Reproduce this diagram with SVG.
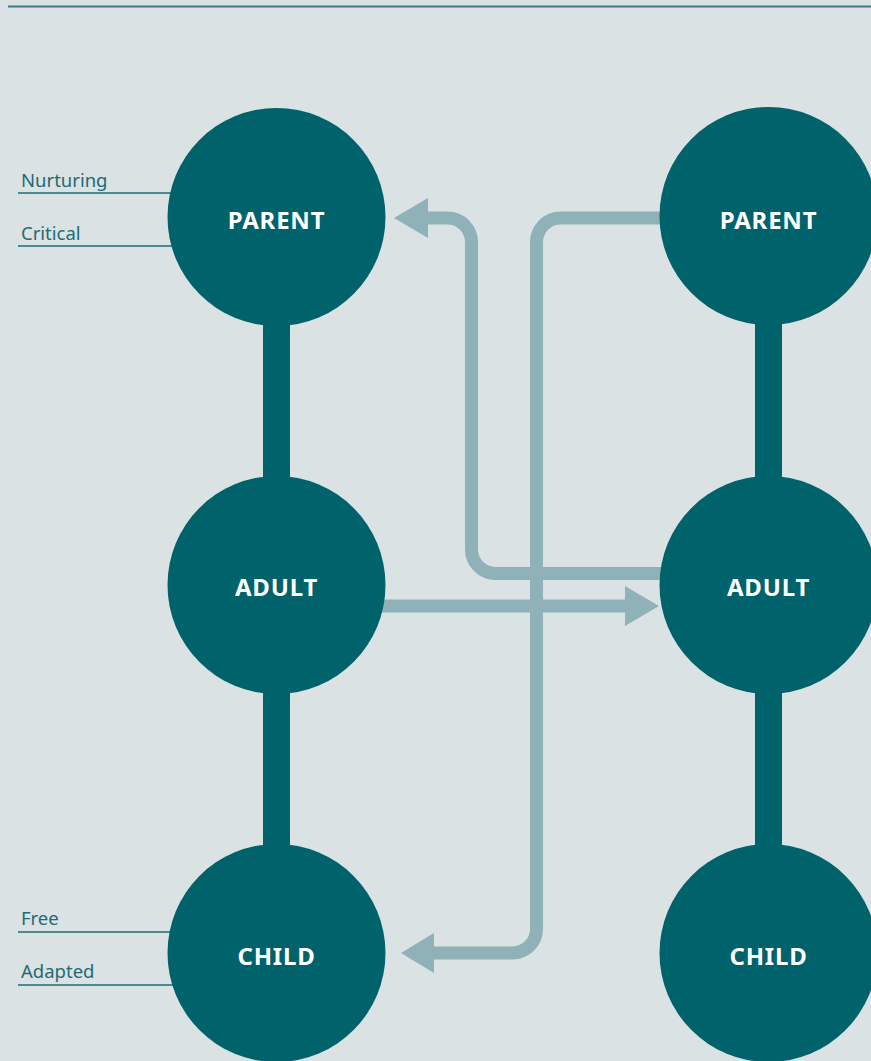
<svg xmlns="http://www.w3.org/2000/svg" width="871" height="1061" viewBox="0 0 871 1061">
<style>
.bg{fill:#dae2e4}
.bar{stroke:#00626a;stroke-width:27;fill:none}
.flow{stroke:#8fb1b8;stroke-width:13;fill:none}
.head{fill:#8fb1b8}
.node{fill:#00626a}
.nt{font-family:"Noto Sans","Open Sans",sans-serif;font-weight:bold;font-size:24px;letter-spacing:0.8px;fill:#ffffff;text-anchor:middle}
.lbl{font-family:"Noto Sans","Open Sans",sans-serif;font-size:18.5px;fill:#1f6b73}
.ul{stroke:#1f6b73;stroke-width:1.5}
</style>
<rect class="bg" width="871" height="1061"/>
<line x1="8" y1="6.5" x2="871" y2="6.5" stroke="#3a7f88" stroke-width="2"/>
<g id="labels">
<line class="ul" x1="18" y1="193" x2="200" y2="193"/>
<text class="lbl" x="21" y="187">Nurturing</text>
<line class="ul" x1="18" y1="246" x2="200" y2="246"/>
<text class="lbl" x="21" y="240">Critical</text>
<line class="ul" x1="18" y1="932" x2="200" y2="932"/>
<text class="lbl" x="21" y="925">Free</text>
<line class="ul" x1="18" y1="985" x2="200" y2="985"/>
<text class="lbl" x="21" y="978">Adapted</text>
</g>
<g id="connectors">
<line class="bar" x1="276.5" y1="217" x2="276.5" y2="953"/>
<line class="bar" x1="768.5" y1="217" x2="768.5" y2="953"/>
<path class="flow" d="M670 573.5 H495.5 A24 24 0 0 1 471.5 549.5 V242 A24 24 0 0 0 447.5 218 H426"/>
<polygon class="head" points="394,218 428,198 428,238"/>
<path class="flow" d="M670 218 H560.5 A24 24 0 0 0 536.5 242 V929 A24 24 0 0 1 512.5 953 H432"/>
<polygon class="head" points="401,953 434,933 434,973"/>
<path class="flow" d="M380 606 H627"/>
<polygon class="head" points="659,606 625,586 625,626"/>
</g>
<g id="parent-left"><circle class="node" cx="276.5" cy="217" r="109"/><text class="nt" x="276.5" y="229">PARENT</text></g>
<g id="adult-left"><circle class="node" cx="276.5" cy="585" r="109"/><text class="nt" x="276.5" y="596">ADULT</text></g>
<g id="child-left"><circle class="node" cx="276.5" cy="953" r="109"/><text class="nt" x="276.5" y="965">CHILD</text></g>
<g id="parent-right"><circle class="node" cx="768.5" cy="216" r="109"/><text class="nt" x="768.5" y="229">PARENT</text></g>
<g id="adult-right"><circle class="node" cx="768.5" cy="585" r="109"/><text class="nt" x="768.5" y="596">ADULT</text></g>
<g id="child-right"><circle class="node" cx="768.5" cy="953" r="109"/><text class="nt" x="768.5" y="965">CHILD</text></g>
</svg>
